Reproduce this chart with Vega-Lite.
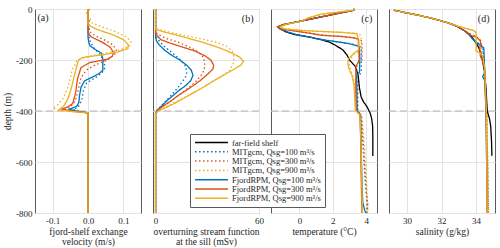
{
"$schema":"https://vega.github.io/schema/vega-lite/v6.json",
"padding":{"left":2,"top":4,"right":2,"bottom":0},
"spacing":12,
"bounds":"flush",
"config":{
 "font":"Liberation Serif",
 "view":{"stroke":"#5a5a5a","strokeWidth":1},
 "style":{"guide-label":{"font":"Liberation Serif","fontWeight":"normal"},"guide-title":{"font":"Liberation Serif","fontWeight":"normal"}},
 "axis":{"domain":false,"ticks":false,"grid":true,"gridColor":"#e3e3e3","labelFont":"Liberation Serif","labelFontSize":9,"labelColor":"#262626","titleFont":"Liberation Serif","titleFontSize":9.5,"titleLineHeight":10.5,"titleFontWeight":"normal","titleColor":"#262626","labelFlush":false,"labelPadding":3,"titlePadding":1},
 "axisY":{"titlePadding":3},
 "legend":{"orient":"none","legendX":155,"legendY":125,"fillColor":"white","strokeColor":"#5a5a5a","padding":4,"labelFont":"Liberation Serif","labelFontSize":8.5,"labelColor":"#262626","symbolType":"M-4.7,0H4.7","symbolSize":49,"symbolOffset":13,"labelOffset":16,"symbolStrokeWidth":1.5,"rowPadding":0.3}
},
"resolve":{"scale":{"x":"independent","color":"shared","strokeDash":"shared"},"legend":{"color":"shared","strokeDash":"shared"}},
"data":{"values":[
{"p":"a","s":"M100","d":0,"v":0.002},{"p":"a","s":"M100","d":-30,"v":-0.002},{"p":"a","s":"M100","d":-60,"v":0.003},{"p":"a","s":"M100","d":-100,"v":0.002},{"p":"a","s":"M100","d":-120,"v":0.004},{"p":"a","s":"M100","d":-150,"v":0.015},{"p":"a","s":"M100","d":-180,"v":0.035},{"p":"a","s":"M100","d":-205,"v":0.045},{"p":"a","s":"M100","d":-230,"v":0.048},{"p":"a","s":"M100","d":-250,"v":0.04},{"p":"a","s":"M100","d":-270,"v":0.02},{"p":"a","s":"M100","d":-290,"v":-0.004},{"p":"a","s":"M100","d":-320,"v":-0.013},{"p":"a","s":"M100","d":-360,"v":-0.018},{"p":"a","s":"M100","d":-385,"v":-0.028},{"p":"a","s":"M100","d":-395,"v":-0.042},{"p":"a","s":"M100","d":-402,"v":-0.02},{"p":"a","s":"M100","d":-408,"v":0},{"p":"a","s":"M100","d":-800,"v":0},
{"p":"a","s":"M300","d":0,"v":0.003},{"p":"a","s":"M300","d":-20,"v":-0.003},{"p":"a","s":"M300","d":-45,"v":0.004},{"p":"a","s":"M300","d":-70,"v":0.002},{"p":"a","s":"M300","d":-90,"v":0.006},{"p":"a","s":"M300","d":-105,"v":0.02},{"p":"a","s":"M300","d":-120,"v":0.045},{"p":"a","s":"M300","d":-140,"v":0.07},{"p":"a","s":"M300","d":-160,"v":0.08},{"p":"a","s":"M300","d":-180,"v":0.075},{"p":"a","s":"M300","d":-200,"v":0.055},{"p":"a","s":"M300","d":-220,"v":0.02},{"p":"a","s":"M300","d":-240,"v":-0.005},{"p":"a","s":"M300","d":-270,"v":-0.02},{"p":"a","s":"M300","d":-320,"v":-0.028},{"p":"a","s":"M300","d":-360,"v":-0.036},{"p":"a","s":"M300","d":-385,"v":-0.05},{"p":"a","s":"M300","d":-395,"v":-0.07},{"p":"a","s":"M300","d":-402,"v":-0.035},{"p":"a","s":"M300","d":-408,"v":0},{"p":"a","s":"M300","d":-800,"v":0},
{"p":"a","s":"M900","d":0,"v":0.006},{"p":"a","s":"M900","d":-15,"v":-0.004},{"p":"a","s":"M900","d":-35,"v":0.005},{"p":"a","s":"M900","d":-55,"v":0.012},{"p":"a","s":"M900","d":-70,"v":0.04},{"p":"a","s":"M900","d":-90,"v":0.08},{"p":"a","s":"M900","d":-110,"v":0.11},{"p":"a","s":"M900","d":-130,"v":0.122},{"p":"a","s":"M900","d":-145,"v":0.117},{"p":"a","s":"M900","d":-160,"v":0.092},{"p":"a","s":"M900","d":-175,"v":0.045},{"p":"a","s":"M900","d":-185,"v":0.005},{"p":"a","s":"M900","d":-200,"v":-0.03},{"p":"a","s":"M900","d":-240,"v":-0.045},{"p":"a","s":"M900","d":-300,"v":-0.055},{"p":"a","s":"M900","d":-350,"v":-0.07},{"p":"a","s":"M900","d":-375,"v":-0.085},{"p":"a","s":"M900","d":-388,"v":-0.1},{"p":"a","s":"M900","d":-397,"v":-0.08},{"p":"a","s":"M900","d":-404,"v":-0.03},{"p":"a","s":"M900","d":-408,"v":0},{"p":"a","s":"M900","d":-800,"v":0},
{"p":"a","s":"F100","d":0,"v":0},{"p":"a","s":"F100","d":-110,"v":0},{"p":"a","s":"F100","d":-130,"v":0.002},{"p":"a","s":"F100","d":-145,"v":0.006},{"p":"a","s":"F100","d":-160,"v":0.022},{"p":"a","s":"F100","d":-172,"v":0.037},{"p":"a","s":"F100","d":-195,"v":0.042},{"p":"a","s":"F100","d":-240,"v":0.042},{"p":"a","s":"F100","d":-252,"v":0.032},{"p":"a","s":"F100","d":-263,"v":0.018},{"p":"a","s":"F100","d":-282,"v":-0.01},{"p":"a","s":"F100","d":-308,"v":-0.02},{"p":"a","s":"F100","d":-340,"v":-0.024},{"p":"a","s":"F100","d":-367,"v":-0.026},{"p":"a","s":"F100","d":-382,"v":-0.032},{"p":"a","s":"F100","d":-393,"v":-0.053},{"p":"a","s":"F100","d":-401,"v":-0.03},{"p":"a","s":"F100","d":-407,"v":0},{"p":"a","s":"F100","d":-800,"v":0},
{"p":"a","s":"F300","d":0,"v":0},{"p":"a","s":"F300","d":-95,"v":0},{"p":"a","s":"F300","d":-110,"v":0.01},{"p":"a","s":"F300","d":-130,"v":0.04},{"p":"a","s":"F300","d":-150,"v":0.063},{"p":"a","s":"F300","d":-170,"v":0.072},{"p":"a","s":"F300","d":-185,"v":0.069},{"p":"a","s":"F300","d":-197,"v":0.055},{"p":"a","s":"F300","d":-210,"v":0.005},{"p":"a","s":"F300","d":-230,"v":-0.02},{"p":"a","s":"F300","d":-276,"v":-0.03},{"p":"a","s":"F300","d":-328,"v":-0.035},{"p":"a","s":"F300","d":-370,"v":-0.043},{"p":"a","s":"F300","d":-385,"v":-0.058},{"p":"a","s":"F300","d":-393,"v":-0.076},{"p":"a","s":"F300","d":-401,"v":-0.04},{"p":"a","s":"F300","d":-407,"v":0},{"p":"a","s":"F300","d":-800,"v":0},
{"p":"a","s":"F900","d":0,"v":0},{"p":"a","s":"F900","d":-62,"v":0},{"p":"a","s":"F900","d":-80,"v":0.025},{"p":"a","s":"F900","d":-100,"v":0.068},{"p":"a","s":"F900","d":-120,"v":0.1},{"p":"a","s":"F900","d":-140,"v":0.114},{"p":"a","s":"F900","d":-155,"v":0.113},{"p":"a","s":"F900","d":-168,"v":0.085},{"p":"a","s":"F900","d":-180,"v":0.04},{"p":"a","s":"F900","d":-190,"v":-0.015},{"p":"a","s":"F900","d":-200,"v":-0.027},{"p":"a","s":"F900","d":-230,"v":-0.033},{"p":"a","s":"F900","d":-270,"v":-0.04},{"p":"a","s":"F900","d":-310,"v":-0.047},{"p":"a","s":"F900","d":-350,"v":-0.056},{"p":"a","s":"F900","d":-380,"v":-0.068},{"p":"a","s":"F900","d":-395,"v":-0.082},{"p":"a","s":"F900","d":-402,"v":-0.045},{"p":"a","s":"F900","d":-407,"v":0},{"p":"a","s":"F900","d":-800,"v":0},

{"p":"b","s":"M100","d":0,"v":0},{"p":"b","s":"M100","d":-105,"v":0},{"p":"b","s":"M100","d":-120,"v":1.5},{"p":"b","s":"M100","d":-140,"v":4},{"p":"b","s":"M100","d":-160,"v":7.5},{"p":"b","s":"M100","d":-180,"v":11},{"p":"b","s":"M100","d":-200,"v":14.5},{"p":"b","s":"M100","d":-220,"v":17},{"p":"b","s":"M100","d":-245,"v":18.2},{"p":"b","s":"M100","d":-265,"v":17.5},{"p":"b","s":"M100","d":-290,"v":15},{"p":"b","s":"M100","d":-320,"v":11.5},{"p":"b","s":"M100","d":-350,"v":7.5},{"p":"b","s":"M100","d":-375,"v":4},{"p":"b","s":"M100","d":-395,"v":1.2},{"p":"b","s":"M100","d":-410,"v":0},{"p":"b","s":"M100","d":-800,"v":0},
{"p":"b","s":"M300","d":0,"v":0},{"p":"b","s":"M300","d":-90,"v":0},{"p":"b","s":"M300","d":-100,"v":1.5},{"p":"b","s":"M300","d":-115,"v":6},{"p":"b","s":"M300","d":-130,"v":13},{"p":"b","s":"M300","d":-150,"v":20},{"p":"b","s":"M300","d":-170,"v":25},{"p":"b","s":"M300","d":-190,"v":27.8},{"p":"b","s":"M300","d":-215,"v":28.5},{"p":"b","s":"M300","d":-240,"v":28.2},{"p":"b","s":"M300","d":-265,"v":26},{"p":"b","s":"M300","d":-290,"v":22.5},{"p":"b","s":"M300","d":-320,"v":17},{"p":"b","s":"M300","d":-350,"v":11},{"p":"b","s":"M300","d":-375,"v":6},{"p":"b","s":"M300","d":-395,"v":1.5},{"p":"b","s":"M300","d":-410,"v":0},{"p":"b","s":"M300","d":-800,"v":0},
{"p":"b","s":"M900","d":0,"v":0},{"p":"b","s":"M900","d":-75,"v":0},{"p":"b","s":"M900","d":-85,"v":4},{"p":"b","s":"M900","d":-100,"v":14},{"p":"b","s":"M900","d":-115,"v":25},{"p":"b","s":"M900","d":-130,"v":35},{"p":"b","s":"M900","d":-145,"v":41},{"p":"b","s":"M900","d":-165,"v":44.5},{"p":"b","s":"M900","d":-190,"v":45.5},{"p":"b","s":"M900","d":-215,"v":45},{"p":"b","s":"M900","d":-240,"v":43},{"p":"b","s":"M900","d":-260,"v":39},{"p":"b","s":"M900","d":-290,"v":32},{"p":"b","s":"M900","d":-320,"v":24},{"p":"b","s":"M900","d":-350,"v":16},{"p":"b","s":"M900","d":-375,"v":8.5},{"p":"b","s":"M900","d":-395,"v":2.5},{"p":"b","s":"M900","d":-410,"v":0},{"p":"b","s":"M900","d":-800,"v":0},
{"p":"b","s":"F100","d":0,"v":0},{"p":"b","s":"F100","d":-110,"v":0},{"p":"b","s":"F100","d":-125,"v":0.5},{"p":"b","s":"F100","d":-140,"v":2},{"p":"b","s":"F100","d":-160,"v":5},{"p":"b","s":"F100","d":-180,"v":9},{"p":"b","s":"F100","d":-200,"v":14},{"p":"b","s":"F100","d":-220,"v":18},{"p":"b","s":"F100","d":-240,"v":20.7},{"p":"b","s":"F100","d":-260,"v":21.7},{"p":"b","s":"F100","d":-280,"v":20.5},{"p":"b","s":"F100","d":-300,"v":17.5},{"p":"b","s":"F100","d":-320,"v":13.5},{"p":"b","s":"F100","d":-340,"v":10},{"p":"b","s":"F100","d":-360,"v":6.5},{"p":"b","s":"F100","d":-380,"v":3.5},{"p":"b","s":"F100","d":-395,"v":1.2},{"p":"b","s":"F100","d":-410,"v":0},{"p":"b","s":"F100","d":-800,"v":0},
{"p":"b","s":"F300","d":0,"v":0},{"p":"b","s":"F300","d":-95,"v":0},{"p":"b","s":"F300","d":-105,"v":1},{"p":"b","s":"F300","d":-120,"v":3},{"p":"b","s":"F300","d":-135,"v":9},{"p":"b","s":"F300","d":-150,"v":16},{"p":"b","s":"F300","d":-165,"v":23},{"p":"b","s":"F300","d":-185,"v":29},{"p":"b","s":"F300","d":-200,"v":32},{"p":"b","s":"F300","d":-220,"v":33.7},{"p":"b","s":"F300","d":-235,"v":33.3},{"p":"b","s":"F300","d":-260,"v":29.5},{"p":"b","s":"F300","d":-280,"v":26},{"p":"b","s":"F300","d":-300,"v":22},{"p":"b","s":"F300","d":-320,"v":17.5},{"p":"b","s":"F300","d":-340,"v":13},{"p":"b","s":"F300","d":-360,"v":9},{"p":"b","s":"F300","d":-380,"v":4.5},{"p":"b","s":"F300","d":-395,"v":1.5},{"p":"b","s":"F300","d":-410,"v":0},{"p":"b","s":"F300","d":-800,"v":0},
{"p":"b","s":"F900","d":0,"v":0},{"p":"b","s":"F900","d":-80,"v":0},{"p":"b","s":"F900","d":-90,"v":5},{"p":"b","s":"F900","d":-100,"v":11},{"p":"b","s":"F900","d":-115,"v":19},{"p":"b","s":"F900","d":-130,"v":27},{"p":"b","s":"F900","d":-145,"v":34},{"p":"b","s":"F900","d":-160,"v":40},{"p":"b","s":"F900","d":-175,"v":45},{"p":"b","s":"F900","d":-190,"v":49},{"p":"b","s":"F900","d":-205,"v":51},{"p":"b","s":"F900","d":-220,"v":49.5},{"p":"b","s":"F900","d":-250,"v":42},{"p":"b","s":"F900","d":-280,"v":34},{"p":"b","s":"F900","d":-310,"v":27},{"p":"b","s":"F900","d":-340,"v":19},{"p":"b","s":"F900","d":-370,"v":11},{"p":"b","s":"F900","d":-390,"v":5},{"p":"b","s":"F900","d":-400,"v":1.5},{"p":"b","s":"F900","d":-410,"v":0},{"p":"b","s":"F900","d":-800,"v":0},

{"p":"c","s":"M100","d":0,"v":3.3},{"p":"c","s":"M100","d":-5,"v":3.24},{"p":"c","s":"M100","d":-20,"v":2.1},{"p":"c","s":"M100","d":-35,"v":1.0},{"p":"c","s":"M100","d":-50,"v":-0.1},{"p":"c","s":"M100","d":-62,"v":-1.0},{"p":"c","s":"M100","d":-70,"v":-1.3},{"p":"c","s":"M100","d":-78,"v":-1.15},{"p":"c","s":"M100","d":-90,"v":-0.7},{"p":"c","s":"M100","d":-100,"v":-0.2},{"p":"c","s":"M100","d":-110,"v":0.6},{"p":"c","s":"M100","d":-120,"v":1.4},{"p":"c","s":"M100","d":-130,"v":2.4},{"p":"c","s":"M100","d":-138,"v":3.2},{"p":"c","s":"M100","d":-146,"v":3.6},{"p":"c","s":"M100","d":-155,"v":3.72},{"p":"c","s":"M100","d":-250,"v":3.7},{"p":"c","s":"M100","d":-262,"v":3.55},{"p":"c","s":"M100","d":-300,"v":3.5},{"p":"c","s":"M100","d":-398,"v":3.5},{"p":"c","s":"M100","d":-418,"v":3.68},{"p":"c","s":"M100","d":-500,"v":3.78},{"p":"c","s":"M100","d":-600,"v":3.87},{"p":"c","s":"M100","d":-700,"v":3.97},{"p":"c","s":"M100","d":-770,"v":4.1},{"p":"c","s":"M100","d":-800,"v":4.05},
{"p":"c","s":"M300","d":0,"v":3.3},{"p":"c","s":"M300","d":-5,"v":3.24},{"p":"c","s":"M300","d":-20,"v":2.1},{"p":"c","s":"M300","d":-35,"v":1.0},{"p":"c","s":"M300","d":-50,"v":-0.1},{"p":"c","s":"M300","d":-62,"v":-1.0},{"p":"c","s":"M300","d":-70,"v":-1.3},{"p":"c","s":"M300","d":-78,"v":-1.15},{"p":"c","s":"M300","d":-86,"v":-0.3},{"p":"c","s":"M300","d":-95,"v":0.7},{"p":"c","s":"M300","d":-103,"v":1.5},{"p":"c","s":"M300","d":-110,"v":3.0},{"p":"c","s":"M300","d":-118,"v":3.6},{"p":"c","s":"M300","d":-126,"v":3.75},{"p":"c","s":"M300","d":-200,"v":3.75},{"p":"c","s":"M300","d":-215,"v":3.5},{"p":"c","s":"M300","d":-230,"v":3.42},{"p":"c","s":"M300","d":-300,"v":3.45},{"p":"c","s":"M300","d":-398,"v":3.48},{"p":"c","s":"M300","d":-418,"v":3.7},{"p":"c","s":"M300","d":-500,"v":3.8},{"p":"c","s":"M300","d":-600,"v":3.9},{"p":"c","s":"M300","d":-700,"v":4.0},{"p":"c","s":"M300","d":-780,"v":4.05},{"p":"c","s":"M300","d":-800,"v":4.0},
{"p":"c","s":"M900","d":0,"v":3.3},{"p":"c","s":"M900","d":-5,"v":3.25},{"p":"c","s":"M900","d":-20,"v":1.5},{"p":"c","s":"M900","d":-35,"v":0.6},{"p":"c","s":"M900","d":-47,"v":0.25},{"p":"c","s":"M900","d":-60,"v":-0.7},{"p":"c","s":"M900","d":-70,"v":-1.1},{"p":"c","s":"M900","d":-78,"v":-0.85},{"p":"c","s":"M900","d":-85,"v":0.4},{"p":"c","s":"M900","d":-92,"v":2.7},{"p":"c","s":"M900","d":-97,"v":3.6},{"p":"c","s":"M900","d":-110,"v":3.7},{"p":"c","s":"M900","d":-160,"v":3.72},{"p":"c","s":"M900","d":-175,"v":3.3},{"p":"c","s":"M900","d":-200,"v":3.0},{"p":"c","s":"M900","d":-220,"v":2.98},{"p":"c","s":"M900","d":-245,"v":3.1},{"p":"c","s":"M900","d":-270,"v":3.25},{"p":"c","s":"M900","d":-380,"v":3.4},{"p":"c","s":"M900","d":-400,"v":3.5},{"p":"c","s":"M900","d":-418,"v":3.75},{"p":"c","s":"M900","d":-500,"v":3.85},{"p":"c","s":"M900","d":-600,"v":3.95},{"p":"c","s":"M900","d":-700,"v":4.05},{"p":"c","s":"M900","d":-790,"v":4.1},{"p":"c","s":"M900","d":-800,"v":4.05},
{"p":"c","s":"ff","d":0,"v":3.3},{"p":"c","s":"ff","d":-5,"v":3.24},{"p":"c","s":"ff","d":-20,"v":2.1},{"p":"c","s":"ff","d":-35,"v":1.0},{"p":"c","s":"ff","d":-50,"v":-0.1},{"p":"c","s":"ff","d":-62,"v":-1.0},{"p":"c","s":"ff","d":-70,"v":-1.3},{"p":"c","s":"ff","d":-78,"v":-1.15},{"p":"c","s":"ff","d":-90,"v":-0.8},{"p":"c","s":"ff","d":-100,"v":-0.3},{"p":"c","s":"ff","d":-110,"v":0.6},{"p":"c","s":"ff","d":-120,"v":1.3},{"p":"c","s":"ff","d":-130,"v":1.8},{"p":"c","s":"ff","d":-140,"v":2.1},{"p":"c","s":"ff","d":-160,"v":2.6},{"p":"c","s":"ff","d":-180,"v":2.85},{"p":"c","s":"ff","d":-200,"v":3.0},{"p":"c","s":"ff","d":-225,"v":3.35},{"p":"c","s":"ff","d":-260,"v":3.52},{"p":"c","s":"ff","d":-310,"v":3.6},{"p":"c","s":"ff","d":-345,"v":3.7},{"p":"c","s":"ff","d":-365,"v":3.85},{"p":"c","s":"ff","d":-383,"v":4.05},{"p":"c","s":"ff","d":-410,"v":4.25},{"p":"c","s":"ff","d":-430,"v":4.33},{"p":"c","s":"ff","d":-460,"v":4.39},{"p":"c","s":"ff","d":-500,"v":4.4},{"p":"c","s":"ff","d":-576,"v":4.4},
{"p":"c","s":"F100","d":0,"v":3.3},{"p":"c","s":"F100","d":-5,"v":3.24},{"p":"c","s":"F100","d":-20,"v":2.1},{"p":"c","s":"F100","d":-35,"v":1.0},{"p":"c","s":"F100","d":-50,"v":-0.1},{"p":"c","s":"F100","d":-62,"v":-1.0},{"p":"c","s":"F100","d":-70,"v":-1.3},{"p":"c","s":"F100","d":-78,"v":-1.15},{"p":"c","s":"F100","d":-90,"v":-0.7},{"p":"c","s":"F100","d":-100,"v":-0.2},{"p":"c","s":"F100","d":-110,"v":0.6},{"p":"c","s":"F100","d":-120,"v":1.3},{"p":"c","s":"F100","d":-128,"v":2.2},{"p":"c","s":"F100","d":-136,"v":3.0},{"p":"c","s":"F100","d":-145,"v":3.5},{"p":"c","s":"F100","d":-155,"v":3.6},{"p":"c","s":"F100","d":-200,"v":3.62},{"p":"c","s":"F100","d":-248,"v":3.6},{"p":"c","s":"F100","d":-258,"v":3.45},{"p":"c","s":"F100","d":-270,"v":3.42},{"p":"c","s":"F100","d":-300,"v":3.44},{"p":"c","s":"F100","d":-398,"v":3.46},{"p":"c","s":"F100","d":-415,"v":3.66},{"p":"c","s":"F100","d":-500,"v":3.7},{"p":"c","s":"F100","d":-600,"v":3.72},{"p":"c","s":"F100","d":-700,"v":3.76},{"p":"c","s":"F100","d":-760,"v":3.8},{"p":"c","s":"F100","d":-790,"v":3.92},{"p":"c","s":"F100","d":-800,"v":3.98},
{"p":"c","s":"F300","d":0,"v":3.3},{"p":"c","s":"F300","d":-5,"v":3.24},{"p":"c","s":"F300","d":-20,"v":2.1},{"p":"c","s":"F300","d":-35,"v":1.0},{"p":"c","s":"F300","d":-50,"v":-0.1},{"p":"c","s":"F300","d":-62,"v":-1.0},{"p":"c","s":"F300","d":-70,"v":-1.3},{"p":"c","s":"F300","d":-78,"v":-1.15},{"p":"c","s":"F300","d":-86,"v":-0.3},{"p":"c","s":"F300","d":-95,"v":0.6},{"p":"c","s":"F300","d":-103,"v":1.3},{"p":"c","s":"F300","d":-108,"v":2.6},{"p":"c","s":"F300","d":-114,"v":3.35},{"p":"c","s":"F300","d":-120,"v":3.55},{"p":"c","s":"F300","d":-200,"v":3.58},{"p":"c","s":"F300","d":-212,"v":3.5},{"p":"c","s":"F300","d":-225,"v":3.38},{"p":"c","s":"F300","d":-300,"v":3.38},{"p":"c","s":"F300","d":-398,"v":3.4},{"p":"c","s":"F300","d":-415,"v":3.62},{"p":"c","s":"F300","d":-500,"v":3.67},{"p":"c","s":"F300","d":-650,"v":3.7},{"p":"c","s":"F300","d":-800,"v":3.75},
{"p":"c","s":"F900","d":0,"v":3.3},{"p":"c","s":"F900","d":-5,"v":3.2},{"p":"c","s":"F900","d":-20,"v":1.3},{"p":"c","s":"F900","d":-35,"v":0.5},{"p":"c","s":"F900","d":-47,"v":0.2},{"p":"c","s":"F900","d":-60,"v":-0.8},{"p":"c","s":"F900","d":-70,"v":-1.15},{"p":"c","s":"F900","d":-78,"v":-0.9},{"p":"c","s":"F900","d":-85,"v":0.3},{"p":"c","s":"F900","d":-92,"v":2.6},{"p":"c","s":"F900","d":-97,"v":3.45},{"p":"c","s":"F900","d":-110,"v":3.5},{"p":"c","s":"F900","d":-160,"v":3.55},{"p":"c","s":"F900","d":-172,"v":3.3},{"p":"c","s":"F900","d":-195,"v":2.95},{"p":"c","s":"F900","d":-215,"v":2.9},{"p":"c","s":"F900","d":-240,"v":3.0},{"p":"c","s":"F900","d":-260,"v":3.15},{"p":"c","s":"F900","d":-300,"v":3.28},{"p":"c","s":"F900","d":-398,"v":3.35},{"p":"c","s":"F900","d":-415,"v":3.63},{"p":"c","s":"F900","d":-500,"v":3.68},{"p":"c","s":"F900","d":-800,"v":3.78},

{"p":"d","s":"M100","d":-5,"v":29.23},{"p":"d","s":"M100","d":-15,"v":29.95},{"p":"d","s":"M100","d":-27,"v":30.84},{"p":"d","s":"M100","d":-37,"v":31.45},{"p":"d","s":"M100","d":-47,"v":32.0},{"p":"d","s":"M100","d":-56,"v":32.45},{"p":"d","s":"M100","d":-64,"v":32.77},{"p":"d","s":"M100","d":-75,"v":33.08},{"p":"d","s":"M100","d":-86,"v":33.34},{"p":"d","s":"M100","d":-100,"v":33.6},{"p":"d","s":"M100","d":-125,"v":33.95},{"p":"d","s":"M100","d":-140,"v":34.25},{"p":"d","s":"M100","d":-150,"v":34.4},{"p":"d","s":"M100","d":-210,"v":34.45},{"p":"d","s":"M100","d":-300,"v":34.56},{"p":"d","s":"M100","d":-400,"v":34.62},{"p":"d","s":"M100","d":-800,"v":34.72},
{"p":"d","s":"M300","d":-5,"v":29.23},{"p":"d","s":"M300","d":-15,"v":29.95},{"p":"d","s":"M300","d":-27,"v":30.84},{"p":"d","s":"M300","d":-37,"v":31.45},{"p":"d","s":"M300","d":-47,"v":32.0},{"p":"d","s":"M300","d":-56,"v":32.45},{"p":"d","s":"M300","d":-64,"v":32.77},{"p":"d","s":"M300","d":-75,"v":33.08},{"p":"d","s":"M300","d":-86,"v":33.34},{"p":"d","s":"M300","d":-95,"v":33.55},{"p":"d","s":"M300","d":-108,"v":34.0},{"p":"d","s":"M300","d":-125,"v":34.3},{"p":"d","s":"M300","d":-200,"v":34.38},{"p":"d","s":"M300","d":-240,"v":34.5},{"p":"d","s":"M300","d":-400,"v":34.62},{"p":"d","s":"M300","d":-800,"v":34.72},
{"p":"d","s":"M900","d":-5,"v":29.23},{"p":"d","s":"M900","d":-15,"v":29.95},{"p":"d","s":"M900","d":-27,"v":30.84},{"p":"d","s":"M900","d":-37,"v":31.45},{"p":"d","s":"M900","d":-47,"v":32.0},{"p":"d","s":"M900","d":-56,"v":32.45},{"p":"d","s":"M900","d":-64,"v":32.8},{"p":"d","s":"M900","d":-75,"v":33.4},{"p":"d","s":"M900","d":-85,"v":33.9},{"p":"d","s":"M900","d":-95,"v":34.02},{"p":"d","s":"M900","d":-165,"v":34.05},{"p":"d","s":"M900","d":-180,"v":34.35},{"p":"d","s":"M900","d":-230,"v":34.52},{"p":"d","s":"M900","d":-400,"v":34.63},{"p":"d","s":"M900","d":-800,"v":34.72},
{"p":"d","s":"ff","d":-5,"v":29.23},{"p":"d","s":"ff","d":-15,"v":29.95},{"p":"d","s":"ff","d":-27,"v":30.84},{"p":"d","s":"ff","d":-37,"v":31.45},{"p":"d","s":"ff","d":-47,"v":32.0},{"p":"d","s":"ff","d":-56,"v":32.45},{"p":"d","s":"ff","d":-64,"v":32.77},{"p":"d","s":"ff","d":-75,"v":33.08},{"p":"d","s":"ff","d":-86,"v":33.34},{"p":"d","s":"ff","d":-100,"v":33.65},{"p":"d","s":"ff","d":-125,"v":33.92},{"p":"d","s":"ff","d":-150,"v":34.15},{"p":"d","s":"ff","d":-185,"v":34.33},{"p":"d","s":"ff","d":-240,"v":34.48},{"p":"d","s":"ff","d":-315,"v":34.58},{"p":"d","s":"ff","d":-400,"v":34.65},{"p":"d","s":"ff","d":-430,"v":34.78},{"p":"d","s":"ff","d":-460,"v":34.85},{"p":"d","s":"ff","d":-520,"v":34.9},{"p":"d","s":"ff","d":-576,"v":34.92},
{"p":"d","s":"F100","d":-5,"v":29.23},{"p":"d","s":"F100","d":-15,"v":29.95},{"p":"d","s":"F100","d":-27,"v":30.84},{"p":"d","s":"F100","d":-37,"v":31.45},{"p":"d","s":"F100","d":-47,"v":32.0},{"p":"d","s":"F100","d":-56,"v":32.45},{"p":"d","s":"F100","d":-64,"v":32.77},{"p":"d","s":"F100","d":-75,"v":33.08},{"p":"d","s":"F100","d":-86,"v":33.34},{"p":"d","s":"F100","d":-100,"v":33.58},{"p":"d","s":"F100","d":-119,"v":33.82},{"p":"d","s":"F100","d":-135,"v":34.1},{"p":"d","s":"F100","d":-145,"v":34.3},{"p":"d","s":"F100","d":-152,"v":34.45},{"p":"d","s":"F100","d":-200,"v":34.48},{"p":"d","s":"F100","d":-250,"v":34.5},{"p":"d","s":"F100","d":-265,"v":34.38},{"p":"d","s":"F100","d":-280,"v":34.5},{"p":"d","s":"F100","d":-400,"v":34.58},{"p":"d","s":"F100","d":-800,"v":34.65},
{"p":"d","s":"F300","d":-5,"v":29.23},{"p":"d","s":"F300","d":-15,"v":29.95},{"p":"d","s":"F300","d":-27,"v":30.84},{"p":"d","s":"F300","d":-37,"v":31.45},{"p":"d","s":"F300","d":-47,"v":32.0},{"p":"d","s":"F300","d":-56,"v":32.45},{"p":"d","s":"F300","d":-64,"v":32.77},{"p":"d","s":"F300","d":-75,"v":33.08},{"p":"d","s":"F300","d":-86,"v":33.34},{"p":"d","s":"F300","d":-95,"v":33.5},{"p":"d","s":"F300","d":-104,"v":33.73},{"p":"d","s":"F300","d":-112,"v":34.07},{"p":"d","s":"F300","d":-125,"v":34.25},{"p":"d","s":"F300","d":-140,"v":34.27},{"p":"d","s":"F300","d":-150,"v":34.22},{"p":"d","s":"F300","d":-185,"v":34.25},{"p":"d","s":"F300","d":-205,"v":34.38},{"p":"d","s":"F300","d":-235,"v":34.5},{"p":"d","s":"F300","d":-400,"v":34.58},{"p":"d","s":"F300","d":-800,"v":34.65},
{"p":"d","s":"F900","d":-5,"v":29.23},{"p":"d","s":"F900","d":-15,"v":29.95},{"p":"d","s":"F900","d":-27,"v":30.84},{"p":"d","s":"F900","d":-37,"v":31.45},{"p":"d","s":"F900","d":-47,"v":32.0},{"p":"d","s":"F900","d":-56,"v":32.45},{"p":"d","s":"F900","d":-64,"v":32.8},{"p":"d","s":"F900","d":-75,"v":33.35},{"p":"d","s":"F900","d":-82,"v":33.75},{"p":"d","s":"F900","d":-88,"v":33.95},{"p":"d","s":"F900","d":-95,"v":34.0},{"p":"d","s":"F900","d":-165,"v":34.0},{"p":"d","s":"F900","d":-173,"v":34.25},{"p":"d","s":"F900","d":-190,"v":34.4},{"p":"d","s":"F900","d":-230,"v":34.5},{"p":"d","s":"F900","d":-400,"v":34.6},{"p":"d","s":"F900","d":-800,"v":34.65}
]},
"hconcat":[
{"width":106,"height":204,"transform":[{"filter":"datum.p=='a'"}],"layer":[
 {"data":{"values":[{}]},"mark":{"type":"rule","color":"#b4b4b4","strokeDash":[7,4],"strokeWidth":1},"encoding":{"y":{"datum":-400}}},
 {"mark":{"type":"line","strokeWidth":1.3},"encoding":{
  "x":{"field":"v","type":"quantitative","scale":{"domain":[-0.15,0.15],"nice":false,"zero":false},"axis":{"values":[-0.1,0,0.1],"labelFont":"Liberation Serif","titleFont":"Liberation Serif","titleFontWeight":"normal","labelExpr":"replace(datum.label,'−','-')","title":["fjord-shelf exchange","velocity (m/s)"]}},
  "y":{"field":"d","type":"quantitative","scale":{"domain":[-800,0],"nice":false},"axis":{"values":[0,-100,-200,-300,-400,-500,-600,-700,-800],"labelFont":"Liberation Serif","titleFont":"Liberation Serif","titleFontWeight":"normal","labelExpr":"replace(datum.label,'−','-')","title":"depth (m)"}},
  "color":{"field":"s","type":"nominal","scale":{"domain":["ff","M100","M300","M900","F100","F300","F900"],"range":["#000000","#0072BD","#D95319","#EDB120","#0072BD","#D95319","#EDB120"]},"legend":{"title":null,"labelExpr":"{'ff':'far-field shelf','M100':'MITgcm, Qsg=100 m³/s','M300':'MITgcm, Qsg=300 m³/s','M900':'MITgcm, Qsg=900 m³/s','F100':'FjordRPM, Qsg=100 m³/s','F300':'FjordRPM, Qsg=300 m³/s','F900':'FjordRPM, Qsg=900 m³/s'}[datum.label]"}},
  "strokeDash":{"field":"s","type":"nominal","scale":{"domain":["ff","M100","M300","M900","F100","F300","F900"],"range":[[1,0],[1.5,2.5],[1.5,2.5],[1.5,2.5],[1,0],[1,0],[1,0]]},"legend":{"title":null,"labelExpr":"{'ff':'far-field shelf','M100':'MITgcm, Qsg=100 m³/s','M300':'MITgcm, Qsg=300 m³/s','M900':'MITgcm, Qsg=900 m³/s','F100':'FjordRPM, Qsg=100 m³/s','F300':'FjordRPM, Qsg=300 m³/s','F900':'FjordRPM, Qsg=900 m³/s'}[datum.label]"}},
  "order":{"field":"d","sort":"descending"}}},
 {"data":{"values":[{}]},"mark":{"type":"text","text":"(a)","align":"left","baseline":"middle","fontSize":10,"font":"Liberation Serif","color":"#262626"},"encoding":{"x":{"datum":-0.143},"y":{"datum":-37}}}
]},
{"width":106,"height":204,"transform":[{"filter":"datum.p=='b'"}],"layer":[
 {"data":{"values":[{}]},"mark":{"type":"rule","color":"#b4b4b4","strokeDash":[7,4],"strokeWidth":1},"encoding":{"y":{"datum":-400}}},
 {"mark":{"type":"line","strokeWidth":1.3},"encoding":{
  "x":{"field":"v","type":"quantitative","scale":{"domain":[-1.5,60],"nice":false,"zero":false},"axis":{"values":[0,20,40,60],"labelFont":"Liberation Serif","titleFont":"Liberation Serif","titleFontWeight":"normal","title":["overturning stream function","at the sill (mSv)"]}},
  "y":{"field":"d","type":"quantitative","scale":{"domain":[-800,0],"nice":false},"axis":{"values":[0,-100,-200,-300,-400,-500,-600,-700,-800],"labels":false,"title":null}},
  "color":{"field":"s","type":"nominal","scale":{"domain":["ff","M100","M300","M900","F100","F300","F900"],"range":["#000000","#0072BD","#D95319","#EDB120","#0072BD","#D95319","#EDB120"]},"legend":{"title":null,"labelExpr":"{'ff':'far-field shelf','M100':'MITgcm, Qsg=100 m³/s','M300':'MITgcm, Qsg=300 m³/s','M900':'MITgcm, Qsg=900 m³/s','F100':'FjordRPM, Qsg=100 m³/s','F300':'FjordRPM, Qsg=300 m³/s','F900':'FjordRPM, Qsg=900 m³/s'}[datum.label]"}},
  "strokeDash":{"field":"s","type":"nominal","scale":{"domain":["ff","M100","M300","M900","F100","F300","F900"],"range":[[1,0],[1.5,2.5],[1.5,2.5],[1.5,2.5],[1,0],[1,0],[1,0]]},"legend":{"title":null,"labelExpr":"{'ff':'far-field shelf','M100':'MITgcm, Qsg=100 m³/s','M300':'MITgcm, Qsg=300 m³/s','M900':'MITgcm, Qsg=900 m³/s','F100':'FjordRPM, Qsg=100 m³/s','F300':'FjordRPM, Qsg=300 m³/s','F900':'FjordRPM, Qsg=900 m³/s'}[datum.label]"}},
  "order":{"field":"d","sort":"descending"}}},
 {"data":{"values":[{}]},"mark":{"type":"text","text":"(b)","align":"right","baseline":"middle","fontSize":10,"font":"Liberation Serif","color":"#262626"},"encoding":{"x":{"datum":56.8},"y":{"datum":-39}}}
]},
{"width":106,"height":204,"transform":[{"filter":"datum.p=='c'"}],"layer":[
 {"data":{"values":[{}]},"mark":{"type":"rule","color":"#b4b4b4","strokeDash":[7,4],"strokeWidth":1},"encoding":{"y":{"datum":-400}}},
 {"mark":{"type":"line","strokeWidth":1.3},"encoding":{
  "x":{"field":"v","type":"quantitative","scale":{"domain":[-1.7,4.65],"nice":false,"zero":false},"axis":{"values":[0,2,4],"labelFont":"Liberation Serif","titleFont":"Liberation Serif","titleFontWeight":"normal","title":"temperature (°C)"}},
  "y":{"field":"d","type":"quantitative","scale":{"domain":[-800,0],"nice":false},"axis":{"values":[0,-100,-200,-300,-400,-500,-600,-700,-800],"labels":false,"title":null}},
  "color":{"field":"s","type":"nominal","scale":{"domain":["ff","M100","M300","M900","F100","F300","F900"],"range":["#000000","#0072BD","#D95319","#EDB120","#0072BD","#D95319","#EDB120"]},"legend":{"title":null,"labelExpr":"{'ff':'far-field shelf','M100':'MITgcm, Qsg=100 m³/s','M300':'MITgcm, Qsg=300 m³/s','M900':'MITgcm, Qsg=900 m³/s','F100':'FjordRPM, Qsg=100 m³/s','F300':'FjordRPM, Qsg=300 m³/s','F900':'FjordRPM, Qsg=900 m³/s'}[datum.label]"}},
  "strokeDash":{"field":"s","type":"nominal","scale":{"domain":["ff","M100","M300","M900","F100","F300","F900"],"range":[[1,0],[1.5,2.5],[1.5,2.5],[1.5,2.5],[1,0],[1,0],[1,0]]},"legend":{"title":null,"labelExpr":"{'ff':'far-field shelf','M100':'MITgcm, Qsg=100 m³/s','M300':'MITgcm, Qsg=300 m³/s','M900':'MITgcm, Qsg=900 m³/s','F100':'FjordRPM, Qsg=100 m³/s','F300':'FjordRPM, Qsg=300 m³/s','F900':'FjordRPM, Qsg=900 m³/s'}[datum.label]"}},
  "order":{"field":"d","sort":"descending"}}},
 {"data":{"values":[{}]},"mark":{"type":"text","text":"(c)","align":"right","baseline":"middle","fontSize":10,"font":"Liberation Serif","color":"#262626"},"encoding":{"x":{"datum":4.37},"y":{"datum":-40}}}
]},
{"width":106,"height":204,"transform":[{"filter":"datum.p=='d'"}],"layer":[
 {"data":{"values":[{}]},"mark":{"type":"rule","color":"#b4b4b4","strokeDash":[7,4],"strokeWidth":1},"encoding":{"y":{"datum":-400}}},
 {"mark":{"type":"line","strokeWidth":1.3},"encoding":{
  "x":{"field":"v","type":"quantitative","scale":{"domain":[28.95,35.1],"nice":false,"zero":false},"axis":{"values":[30,32,34],"labelFont":"Liberation Serif","titleFont":"Liberation Serif","titleFontWeight":"normal","title":"salinity (g/kg)"}},
  "y":{"field":"d","type":"quantitative","scale":{"domain":[-800,0],"nice":false},"axis":{"values":[0,-100,-200,-300,-400,-500,-600,-700,-800],"labels":false,"title":null}},
  "color":{"field":"s","type":"nominal","scale":{"domain":["ff","M100","M300","M900","F100","F300","F900"],"range":["#000000","#0072BD","#D95319","#EDB120","#0072BD","#D95319","#EDB120"]},"legend":{"title":null,"labelExpr":"{'ff':'far-field shelf','M100':'MITgcm, Qsg=100 m³/s','M300':'MITgcm, Qsg=300 m³/s','M900':'MITgcm, Qsg=900 m³/s','F100':'FjordRPM, Qsg=100 m³/s','F300':'FjordRPM, Qsg=300 m³/s','F900':'FjordRPM, Qsg=900 m³/s'}[datum.label]"}},
  "strokeDash":{"field":"s","type":"nominal","scale":{"domain":["ff","M100","M300","M900","F100","F300","F900"],"range":[[1,0],[1.5,2.5],[1.5,2.5],[1.5,2.5],[1,0],[1,0],[1,0]]},"legend":{"title":null,"labelExpr":"{'ff':'far-field shelf','M100':'MITgcm, Qsg=100 m³/s','M300':'MITgcm, Qsg=300 m³/s','M900':'MITgcm, Qsg=900 m³/s','F100':'FjordRPM, Qsg=100 m³/s','F300':'FjordRPM, Qsg=300 m³/s','F900':'FjordRPM, Qsg=900 m³/s'}[datum.label]"}},
  "order":{"field":"d","sort":"descending"}}},
 {"data":{"values":[{}]},"mark":{"type":"text","text":"(d)","align":"right","baseline":"middle","fontSize":10,"font":"Liberation Serif","color":"#262626"},"encoding":{"x":{"datum":34.78},"y":{"datum":-40}}}
]}
]
}
